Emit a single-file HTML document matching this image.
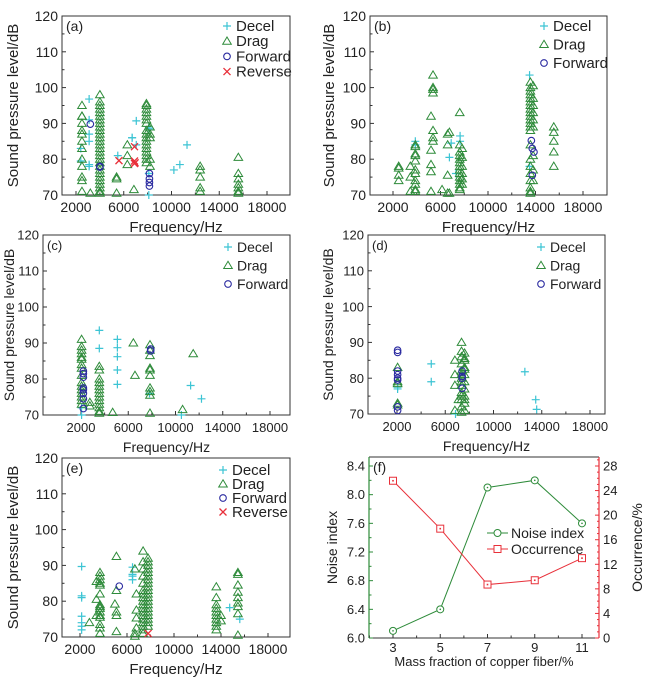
<!DOCTYPE html>
<html><head><meta charset="utf-8"><style>
body{margin:0;background:#fff;}
svg{display:block;font-family:"Liberation Sans",sans-serif;}
</style></head><body>
<svg id="fig" width="650" height="677" viewBox="0 0 650 677" xmlns="http://www.w3.org/2000/svg"></svg>
<script>
// ---------- data (Hz, dB) ----------
const aDragF=[2500,2500,2500,2500,2500,2500,2500,2500,2500,2500,2500,2500,2500,3200,4000,4000,4000,4000,4000,4000,4000,4000,4000,4000,4000,4000,4000,4000,4000,4000,4000,4000,4000,4000,4000,4000,4000,4000,4000,4000,4000,4000,5400,5400,5400,6300,6300,6300,6850,7900,7900,7900,7900,7900,7900,7900,7900,7900,7900,7900,7900,7900,7900,7900,7900,7900,8200,8200,8200,8200,8200,12400,12400,12400,12400,12400,15600,15600,15600,15600,15600,15600,15600];
const aDragY=[95,92,92,90,88,87,85,83,80,78,75,74,71,70.5,98,96,95,94,93,92,91,90,89,88,87,86,85,84,83,82,81,80,79,78,77,76,75,74,73,72,71,70.5,75,74.5,70.5,78.5,81,84,71.5,95.5,95,94,93,92,91,90,88,87,86,85,84,83,82,81,80,79,89,87,86,80,78,78,77,75,72,71,80.5,76,74.5,73,72,71,70.5];
const aDecF=[3100,3100,3100,3100,3100,3100,2400,2400,5500,6700,6700,7050,7050,8100,8100,8100,8100,10200,10700,11300];
const aDecY=[96.8,91,87,85,78.5,78,79.5,83,81,86,86,90.7,84,89,88.5,76,70,77,78.5,84];
const aFwdF=[3200,4000,4000,8150,8150,8150,8150];
const aFwdY=[89.8,78,77.8,76,74.5,73.5,72.5];
const aRevF=[5600,6900,6900,6950,6900];
const aRevY=[79.6,83.5,79.5,79,78.8];

const bDragF=[2480,2480,2480,2480,3460,3460,3460,3880,3880,3880,3880,3880,3880,3880,3880,3880,3880,3880,5200,5200,5200,5200,5200,5370,5370,5370,5370,5370,5370,5370,6130,6600,6600,6600,6600,6750,6750,7620,7620,7620,7620,7620,7620,7620,7620,7620,7620,7620,7620,7620,7620,7820,7820,7820,7820,7820,7820,13570,13570,13570,13570,13570,13570,13570,13570,13570,13570,13570,13570,13570,13570,13570,13570,13570,13570,13570,13570,13570,13570,13800,13800,13800,13800,13800,13800,13800,13800,13800,15540,15540,15540,15540,15540];
const bDragY=[78,77.5,75.5,74,78,75,71,84,83.5,81.5,81,79.5,77,76,74,73,71.5,71,92,82.5,78.5,76.5,71,103.5,100,99.5,98.5,88,86,85,71.5,87,84,75.5,70.5,87.5,70.5,93,84,82,81,80,79,78,77,76,75,74,73,72,71.5,83,80.5,78,76,74.5,73,101.5,100,99,98,97,96,95,94,93,92,91,90,89,88,84,80,78,76,74,72,71,70.5,100.5,97,95,93,91,89,81,77,74,89,87.5,85,82,78];
const bDecF=[3880,3880,6900,6750,7300,7650,7650,13500,13500];
const bDecY=[85,84,84.5,80.5,76,86.5,85,103.5,78];
const bFwdF=[13650,13730,13870,13730];
const bFwdY=[85.2,83,82,75.5];

const cDragF=[2050,2050,2050,2050,2050,2050,2050,2050,2050,2050,2050,2050,2050,2050,2050,2050,2750,2750,3550,3550,3550,3550,3550,3550,3550,3550,3550,3550,3550,3550,3550,4680,6430,6570,7840,7840,7840,7840,7840,7840,7840,7840,7840,7840,10600,11500];
const cDragY=[91,89,88,87,86,85.5,84,83,81,79,78,77,76,75,74,73,73.5,72.5,83.5,82.5,80,79,78,77,76,75,74,73,72,71,70.5,70.7,90,81,89.5,88,86.5,83,82.5,81,77.5,76.5,75.5,70.5,71.5,87];
const cDecF=[3550,3550,5080,5080,5080,5080,5080,2050,2050,7800,10500,11280,12200];
const cDecY=[93.5,88.5,91,88.7,86.2,82.5,78.5,70,72,76,70,78.2,74.5];
const cFwdF=[2200,2200,2200,2200,2200,2200,2200,2200,7900,7900];
const cFwdY=[82.2,81.5,80.5,77.5,77,76,74.5,71.8,88.3,87.8];

const dDragF=[2050,2050,2050,2050,2050,7350,7350,7350,7350,7350,7350,7350,7350,7350,7350,7350,7350,7350,7350,7600,7600,7600,7600,7600,7600,7600,7600,7600,7600,7600,7600,6800,6800,6800,7100,6800];
const dDragY=[83,79,78.5,73,72.5,90,87.5,86,84,82,80,78,76,74,72,70.5,81,79,75,87,85,83,81,79,77,75,73,71,85.5,82.5,74,85,81,78,74,71];
const dDecF=[2050,2050,4840,4840,6850,12600,13500,13580];
const dDecY=[77.5,77,84,79,70,81.8,74,71.3];
const dFwdF=[2050,2050,2050,2050,2050,2050,2050,2050,7400,7400,7400,7400];
const dFwdY=[87.8,87.2,82,81,80,79.5,72,71,82,80.5,80,77.2];

const eDecF=[2140,2140,2140,2140,2140,2140,2140,6470,6470,6470,6470,14740,15600];
const eDecY=[89.7,81.5,81,75.8,74,73,72,89.5,87.5,87,86,78.2,75];
const eDragF=[2800,3400,3400,3400,3700,3700,3700,3700,3700,3700,3700,3700,3700,3700,3700,3700,3700,3700,3700,4970,5100,5100,5100,5100,5100,6670,6670,6670,6800,6800,6800,6800,7370,7370,7370,7370,7370,7370,7370,7370,7370,7370,7370,7370,7370,7370,7370,7370,7370,7370,7790,7790,7790,7790,7790,7790,7790,7790,7790,7790,7790,7790,7790,7790,7790,7790,7790,7790,7790,7790,13600,13600,13600,13600,13600,13600,13600,13600,13600,13600,14000,14000,15440,15440,15440,15440,15440,15440,15440,15440,15440];
const eDragY=[74,85.5,80.5,76,88,87,86,85,84.5,82,79,78.5,78,77,76,75.5,73.5,72.5,71,79.2,92.5,83,77,76,71.5,71,70.2,89,82,77.5,75.3,72.5,94,91,89,87,85,83,82,81,80,79,78,77,76,75,74,73,72,71,92,91,90,89,88,87,86,85,84,83,82,81,80,79,78,77,76,75,74,73,84,81,79,78,77,76,75,74,73,72,76,74.5,88,87.5,84.5,82.5,81,79.5,78.5,76.5,70.5];
const eFwdF=[5340];
const eFwdY=[84.2];
const eRevF=[7800];
const eRevY=[71];

// panel (f)
const fMass=[3,5,7,9,11];
const fNoise=[6.1,6.4,8.1,8.2,7.6];
const fOcc=[25.6,17.8,8.7,9.4,13.0];
const xTickLabels=["2000","6000","10000","14000","18000"];
const yTickLabels=["70","80","90","100","110","120"];
const fLeftTicks=["6.0","6.4","6.8","7.2","7.6","8.0","8.4"];
const fRightTicks=["0","4","8","12","16","20","24","28"];

// ---------- drawing ----------
const svg=document.getElementById('fig');
const NS='http://www.w3.org/2000/svg';
function mk(tag,attrs,parent){const e=document.createElementNS(NS,tag);for(const k in attrs)e.setAttribute(k,attrs[k]);(parent||svg).appendChild(e);return e;}
function txt(s,x,y,size,anchor,parent,fill){const t=mk('text',{x:x,y:y,'font-size':size,'text-anchor':anchor||'middle',fill:fill||'#222'},parent);t.textContent=s;return t;}

const GREEN='#2e8b3a',CYAN='#3cc4d4',BLUE='#2a2aa0',RED='#e8303a';

function marker(kind,x,y,g){
  let e;
  if(kind==='drag'){e=mk('path',{d:`M${x},${y-4.2}L${x+4.3},${y+3}L${x-4.3},${y+3}Z`,fill:'none',stroke:GREEN,'stroke-width':1},g);}
  else if(kind==='decel'){e=mk('path',{d:`M${x-4},${y}H${x+4}M${x},${y-4}V${y+4}`,stroke:CYAN,'stroke-width':1.2},g);}
  else if(kind==='fwd'){e=mk('circle',{cx:x,cy:y,r:3.3,fill:'none',stroke:BLUE,'stroke-width':1.1},g);}
  else {e=mk('path',{d:`M${x-3.5},${y-3.5}L${x+3.5},${y+3.5}M${x+3.5},${y-3.5}L${x-3.5},${y+3.5}`,stroke:RED,'stroke-width':1.3},g);}
  return e;
}

function panel(p){
  const g=mk('g',{});
  
  
  const kx=(p.x18-p.x2)/16000;
  const xs=f=>p.x2+(f-2000)*kx;
  const ys=v=>p.b-(v-70)*(p.b-p.t)/50;
  const fr=mk('rect',{x:p.l,y:p.t,width:p.r-p.l,height:p.b-p.t,fill:'none',stroke:'#333','stroke-width':1},g);
  
  
  for(let f=2000;f<=18000;f+=2000){const x=xs(f);const major=(f-2000)%4000===0;mk('line',{x1:x,x2:x,y1:p.b,y2:p.b-(major?4:2.5),stroke:'#333'},g);}
  xTickLabels.forEach((s,i)=>{const t=txt(s,xs(2000+4000*i),p.b+17,p.fs,'middle',g);});
  for(let v=70;v<=120;v+=5){const y=ys(v);const major=v%10===0;mk('line',{x1:p.l,x2:p.l+(major?4:2.5),y1:y,y2:y,stroke:'#333'},g);}
  yTickLabels.forEach((s,i)=>{const t=txt(s,p.l-4,ys(70+10*i)+p.fs*0.36,p.fs,'end',g);});
  const xl=txt('Frequency/Hz',(p.l+p.r)/2,p.b+37,p.fs+1,'middle',g);
  
  
  const yl=txt('Sound pressure level/dB',0,0,p.fs+1,'middle',g);
  yl.setAttribute('transform',`translate(${p.yl},${(p.t+p.b)/2}) rotate(-90)`);
  
  
  const pl=txt('('+p.id+')',p.l+4,p.t+15,p.fs,'start',g);
  
  
  p.series.forEach(s=>{
    const sg=mk('g',{},g);
    
    
    s.f.forEach((f,i)=>{const m=marker(s.kind,xs(f),ys(s.y[i]),sg);});
  });
  p.series.forEach((s,i)=>{
    const lg=mk('g',{},g);
    
    
    const y=p.ly+i*p.ld;
    marker(s.kind,p.lx,y,lg);
    txt(s.name,p.lx+9,y+5,p.fs+1,'start',lg);
  });
}

const A=[{name:'Decel',kind:'decel'},{name:'Drag',kind:'drag'},{name:'Forward',kind:'fwd'},{name:'Reverse',kind:'rev'}];
panel({id:'a',l:62,r:290,t:16,b:195,x2:76,x18:267,fs:14,yl:18,lx:227,ly:26,ld:15.2,
  series:[{...A[0],f:aDecF,y:aDecY},{...A[1],f:aDragF,y:aDragY},{...A[2],f:aFwdF,y:aFwdY},{...A[3],f:aRevF,y:aRevY}]});
panel({id:'b',l:370,r:607,t:16,b:195,x2:393,x18:583,fs:14,yl:334,lx:544,ly:26,ld:18.5,
  series:[{...A[0],f:bDecF,y:bDecY},{...A[1],f:bDragF,y:bDragY},{...A[2],f:bFwdF,y:bFwdY}]});
panel({id:'c',l:43,r:290,t:235,b:415,x2:81,x18:270,fs:13,yl:14,lx:228,ly:247,ld:18.5,
  series:[{...A[0],f:cDecF,y:cDecY},{...A[1],f:cDragF,y:cDragY},{...A[2],f:cFwdF,y:cFwdY}]});
panel({id:'d',l:368,r:605,t:235,b:414,x2:397,x18:590,fs:13,yl:333,lx:541,ly:247,ld:18.5,
  series:[{...A[0],f:dDecF,y:dDecY},{...A[1],f:dDragF,y:dDragY},{...A[2],f:dFwdF,y:dFwdY}]});
panel({id:'e',l:62,r:290,t:458,b:637,x2:80,x18:268,fs:14,yl:18,lx:223,ly:470,ld:14,
  series:[{...A[0],f:eDecF,y:eDecY},{...A[1],f:eDragF,y:eDragY},{...A[2],f:eFwdF,y:eFwdY},{...A[3],f:eRevF,y:eRevY}]});

// panel (f)
(function(){
  const L=369,R=599,T=457,B=638;
  const g=mk('g',{});
  
  
  const xs=m=>393+(m-3)*(582-393)/8;
  const yl=v=>638-(v-6.0)*(638-466)/2.4;
  const yr=v=>638-v*(638-466)/28;
  mk('line',{x1:L,x2:R,y1:T,y2:T,stroke:'#333'},g);
  mk('line',{x1:L,x2:R,y1:B,y2:B,stroke:'#333'},g);
  mk('line',{x1:L,x2:L,y1:T,y2:B,stroke:GREEN,'stroke-width':1.2},g);
  mk('line',{x1:R,x2:R,y1:T,y2:B,stroke:RED,'stroke-width':1.2},g);
  for(let m=2;m<=11;m++){const x=xs(m);mk('line',{x1:x,x2:x,y1:B,y2:B-(m%2?4:2.5),stroke:'#333'},g);}
  fMass.forEach(m=>{const t=txt(String(m),xs(m),B+14,13,'middle',g);});
  for(let v=6.0;v<=8.41;v+=0.2){const y=yl(v);const major=Math.round(v*10)%4===0;mk('line',{x1:L,x2:L+(major?4:2.5),y1:y,y2:y,stroke:GREEN},g);}
  fLeftTicks.forEach((s,i)=>{const t=txt(s,L-4,yl(6+0.4*i)+4.5,13,'end',g);});
  for(let v=0;v<=29;v+=1){const y=yr(v);const major=v%4===0;mk('line',{x1:R,x2:R-(major?4:2),y1:y,y2:y,stroke:RED},g);}
  fRightTicks.forEach((s,i)=>{const t=txt(s,R+4,yr(4*i)+4.5,13,'start',g);});
  const xt=txt('Mass fraction of copper fiber/%',(L+R)/2,666,13,'middle',g);
  
  
  const y1=txt('Noise index',0,0,14,'middle',g);
  y1.setAttribute('transform',`translate(337,${(T+B)/2}) rotate(-90)`);
  
  
  const y2=txt('Occurrence/%',0,0,14,'middle',g);
  y2.setAttribute('transform',`translate(642,${(T+B)/2}) rotate(-90)`);
  
  
  const pl=txt('(f)',L+4,T+15,14,'start',g);
  
  
  const nl=mk('polyline',{points:fMass.map((m,i)=>xs(m)+','+yl(fNoise[i])).join(' '),fill:'none',stroke:GREEN,'stroke-width':1},g);
  
  
  const ol=mk('polyline',{points:fMass.map((m,i)=>xs(m)+','+yr(fOcc[i])).join(' '),fill:'none',stroke:RED,'stroke-width':1},g);
  
  
  fMass.forEach((m,i)=>{
    const c=mk('circle',{cx:xs(m),cy:yl(fNoise[i]),r:3.5,fill:'#fff',stroke:GREEN},g);
    
    
    mk('circle',{cx:xs(m),cy:yl(fNoise[i]),r:0.8,fill:GREEN},g);
    const s=mk('rect',{x:xs(m)-3.5,y:yr(fOcc[i])-3.5,width:7,height:7,fill:'#fff',stroke:RED},g);
    
    
    mk('rect',{x:xs(m)-0.8,y:yr(fOcc[i])-0.8,width:1.6,height:1.6,fill:RED},g);
  });
  const l1=mk('g',{},g);
  
  
  mk('line',{x1:487,x2:508,y1:533,y2:533,stroke:GREEN},l1);
  mk('circle',{cx:497.5,cy:533,r:3.5,fill:'#fff',stroke:GREEN},l1);
  txt('Noise index',511,538,14,'start',l1);
  const l2=mk('g',{},g);
  
  
  mk('line',{x1:487,x2:508,y1:549,y2:549,stroke:RED},l2);
  mk('rect',{x:494,y:545.5,width:7,height:7,fill:'#fff',stroke:RED},l2);
  txt('Occurrence',511,554,14,'start',l2);
})();
</script>
</body></html>
